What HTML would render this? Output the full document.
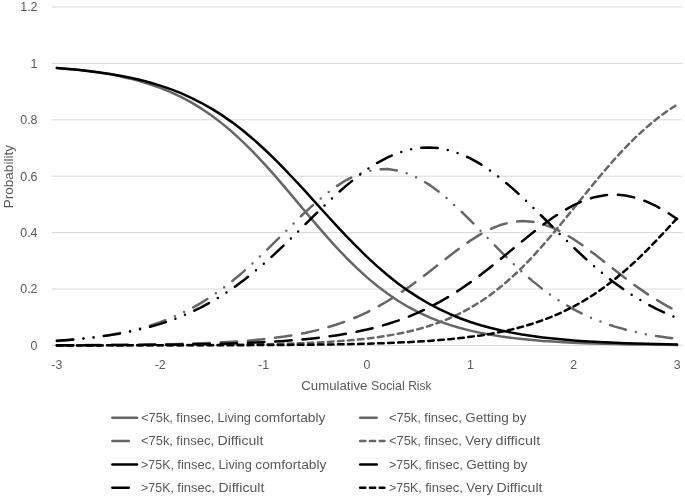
<!DOCTYPE html><html><head><meta charset="utf-8"><title>Chart</title><style>html,body{margin:0;padding:0;background:#fff}svg{display:block;will-change:transform}text{font-family:"Liberation Sans",sans-serif;fill:#595959}</style></head><body>
<svg width="685" height="497" viewBox="0 0 685 497">
<rect width="685" height="497" fill="#fff"/>
<line x1="51.7" x2="682.3" y1="345.40" y2="345.40" stroke="#d9d9d9" stroke-width="1"/>
<line x1="51.7" x2="682.3" y1="289.00" y2="289.00" stroke="#d9d9d9" stroke-width="1"/>
<line x1="51.7" x2="682.3" y1="232.60" y2="232.60" stroke="#d9d9d9" stroke-width="1"/>
<line x1="51.7" x2="682.3" y1="176.20" y2="176.20" stroke="#d9d9d9" stroke-width="1"/>
<line x1="51.7" x2="682.3" y1="119.80" y2="119.80" stroke="#d9d9d9" stroke-width="1"/>
<line x1="51.7" x2="682.3" y1="63.40" y2="63.40" stroke="#d9d9d9" stroke-width="1"/>
<line x1="51.7" x2="682.3" y1="7.00" y2="7.00" stroke="#d9d9d9" stroke-width="1"/>
<text x="37.5" y="349.80" font-size="12.4" text-anchor="end">0</text>
<text x="37.5" y="293.40" font-size="12.4" text-anchor="end">0.2</text>
<text x="37.5" y="237.00" font-size="12.4" text-anchor="end">0.4</text>
<text x="37.5" y="180.60" font-size="12.4" text-anchor="end">0.6</text>
<text x="37.5" y="124.20" font-size="12.4" text-anchor="end">0.8</text>
<text x="37.5" y="67.80" font-size="12.4" text-anchor="end">1</text>
<text x="37.5" y="11.40" font-size="12.4" text-anchor="end">1.2</text>
<text x="56.87" y="369.20" font-size="12.4" text-anchor="middle">-3</text>
<text x="160.24" y="369.20" font-size="12.4" text-anchor="middle">-2</text>
<text x="263.61" y="369.20" font-size="12.4" text-anchor="middle">-1</text>
<text x="366.98" y="369.20" font-size="12.4" text-anchor="middle">0</text>
<text x="470.35" y="369.20" font-size="12.4" text-anchor="middle">1</text>
<text x="573.72" y="369.20" font-size="12.4" text-anchor="middle">2</text>
<text x="677.09" y="369.20" font-size="12.4" text-anchor="middle">3</text>
<text y="389.60" font-size="12.4"><tspan x="301.28" textLength="66.15" lengthAdjust="spacingAndGlyphs">Cumulative</tspan> <tspan x="371.02" textLength="33.71" lengthAdjust="spacingAndGlyphs">Social</tspan> <tspan x="408.16" textLength="23.25" lengthAdjust="spacingAndGlyphs">Risk</tspan></text>
<text y="0.00" font-size="12.4" transform="translate(13.20 176.50) rotate(-90)"><tspan x="-31.75" textLength="63.18" lengthAdjust="spacingAndGlyphs">Probability</tspan></text>
<path d="M56.87 67.98 L67.21 68.84 L77.54 69.86 L87.88 71.06 L98.22 72.47 L108.56 74.14 L118.89 76.11 L129.23 78.41 L139.57 81.10 L149.90 84.23 L160.24 87.87 L170.58 92.07 L180.91 96.90 L191.25 102.43 L201.59 108.69 L211.93 115.74 L222.26 123.62 L232.60 132.32 L242.94 141.83 L253.27 152.11 L263.61 163.08 L273.95 174.63 L284.28 186.61 L294.62 198.85 L304.96 211.18 L315.30 223.41 L325.63 235.35 L335.97 246.84 L346.31 257.75 L356.64 267.95 L366.98 277.39 L377.32 286.01 L387.65 293.80 L397.99 300.77 L408.33 306.96 L418.67 312.41 L429.00 317.18 L439.34 321.32 L449.68 324.90 L460.01 327.99 L470.35 330.64 L480.69 332.90 L491.02 334.84 L501.36 336.48 L511.70 337.87 L522.03 339.05 L532.37 340.05 L542.71 340.90 L553.05 341.61 L563.38 342.21 L573.72 342.72 L584.06 343.15 L594.39 343.51 L604.73 343.81 L615.07 344.06 L625.41 344.28 L635.74 344.46 L646.08 344.61 L656.42 344.73 L666.75 344.84 L677.09 344.93" fill="none" stroke="#666666" stroke-width="2.5" stroke-linecap="round" stroke-linejoin="round"/>
<path d="M56.87 341.02 L67.21 340.20 L77.54 339.23 L87.88 338.08 L98.22 336.73 L108.56 335.15 L118.89 333.28 L129.23 331.10 L139.57 328.55 L149.90 325.58 L160.24 322.15 L170.58 318.19 L180.91 313.64 L191.25 308.47 L201.59 302.62 L211.93 296.06 L222.26 288.78 L232.60 280.78 L242.94 272.11 L253.27 262.83 L263.61 253.06 L273.95 242.94 L284.28 232.64 L294.62 222.39 L304.96 212.41 L315.30 202.96 L325.63 194.26 L335.97 186.56 L346.31 180.06 L356.64 174.94 L366.98 171.35 L377.32 169.39 L387.65 169.11 L397.99 170.55 L408.33 173.66 L418.67 178.38 L429.00 184.58 L439.34 192.11 L449.68 200.76 L460.01 210.29 L470.35 220.44 L480.69 230.96 L491.02 241.59 L501.36 252.08 L511.70 262.22 L522.03 271.86 L532.37 280.86 L542.71 289.14 L553.05 296.65 L563.38 303.39 L573.72 309.37 L584.06 314.63 L594.39 319.22 L604.73 323.20 L615.07 326.62 L625.41 329.55 L635.74 332.05 L646.08 334.18 L656.42 335.98 L666.75 337.50 L677.09 338.78" fill="none" stroke="#666666" stroke-width="2.5" stroke-linecap="round" stroke-linejoin="round" stroke-dasharray="16.40 10.25 0 10.25 0 10.30"/>
<path d="M56.87 345.23 L67.21 345.20 L77.54 345.16 L87.88 345.11 L98.22 345.05 L108.56 344.98 L118.89 344.90 L129.23 344.80 L139.57 344.68 L149.90 344.54 L160.24 344.37 L170.58 344.16 L180.91 343.92 L191.25 343.62 L201.59 343.27 L211.93 342.85 L222.26 342.35 L232.60 341.76 L242.94 341.04 L253.27 340.20 L263.61 339.19 L273.95 337.99 L284.28 336.58 L294.62 334.91 L304.96 332.94 L315.30 330.63 L325.63 327.93 L335.97 324.80 L346.31 321.18 L356.64 317.03 L366.98 312.30 L377.32 306.97 L387.65 301.03 L397.99 294.48 L408.33 287.39 L418.67 279.81 L429.00 271.89 L439.34 263.79 L449.68 255.71 L460.01 247.90 L470.35 240.63 L480.69 234.17 L491.02 228.78 L501.36 224.69 L511.70 222.10 L522.03 221.11 L532.37 221.77 L542.71 224.05 L553.05 227.85 L563.38 232.99 L573.72 239.26 L584.06 246.39 L594.39 254.11 L604.73 262.16 L615.07 270.28 L625.41 278.25 L635.74 285.91 L646.08 293.11 L656.42 299.77 L666.75 305.83 L677.09 311.28" fill="none" stroke="#666666" stroke-width="2.5" stroke-linecap="round" stroke-linejoin="round" stroke-dasharray="16.50 10.80"/>
<path d="M56.87 345.37 L67.21 345.36 L77.54 345.36 L87.88 345.35 L98.22 345.34 L108.56 345.33 L118.89 345.31 L129.23 345.29 L139.57 345.27 L149.90 345.25 L160.24 345.22 L170.58 345.18 L180.91 345.14 L191.25 345.08 L201.59 345.02 L211.93 344.94 L222.26 344.85 L232.60 344.74 L242.94 344.61 L253.27 344.46 L263.61 344.27 L273.95 344.04 L284.28 343.77 L294.62 343.45 L304.96 343.07 L315.30 342.61 L325.63 342.06 L335.97 341.40 L346.31 340.61 L356.64 339.68 L366.98 338.56 L377.32 337.23 L387.65 335.66 L397.99 333.80 L408.33 331.59 L418.67 329.00 L429.00 325.95 L439.34 322.38 L449.68 318.23 L460.01 313.42 L470.35 307.89 L480.69 301.57 L491.02 294.40 L501.36 286.35 L511.70 277.41 L522.03 267.58 L532.37 256.92 L542.71 245.51 L553.05 233.49 L563.38 221.00 L573.72 208.25 L584.06 195.43 L594.39 182.76 L604.73 170.44 L615.07 158.64 L625.41 147.52 L635.74 137.19 L646.08 127.71 L656.42 119.12 L666.75 111.43 L677.09 104.60" fill="none" stroke="#666666" stroke-width="2.5" stroke-linecap="round" stroke-linejoin="round" stroke-dasharray="5.62 4.42"/>
<path d="M56.87 68.09 L67.21 68.90 L77.54 69.85 L87.88 70.95 L98.22 72.24 L108.56 73.73 L118.89 75.47 L129.23 77.49 L139.57 79.82 L149.90 82.52 L160.24 85.61 L170.58 89.16 L180.91 93.21 L191.25 97.82 L201.59 103.02 L211.93 108.86 L222.26 115.39 L232.60 122.61 L242.94 130.54 L253.27 139.18 L263.61 148.48 L273.95 158.40 L284.28 168.86 L294.62 179.76 L304.96 190.96 L315.30 202.34 L325.63 213.75 L335.97 225.04 L346.31 236.06 L356.64 246.69 L366.98 256.81 L377.32 266.35 L387.65 275.23 L397.99 283.42 L408.33 290.90 L418.67 297.67 L429.00 303.75 L439.34 309.18 L449.68 313.99 L460.01 318.24 L470.35 321.96 L480.69 325.22 L491.02 328.05 L501.36 330.51 L511.70 332.63 L522.03 334.47 L532.37 336.05 L542.71 337.41 L553.05 338.58 L563.38 339.57 L573.72 340.43 L584.06 341.16 L594.39 341.79 L604.73 342.32 L615.07 342.78 L625.41 343.17 L635.74 343.50 L646.08 343.78 L656.42 344.02 L666.75 344.23 L677.09 344.40" fill="none" stroke="#000000" stroke-width="2.5" stroke-linecap="round" stroke-linejoin="round"/>
<path d="M56.87 340.85 L67.21 340.06 L77.54 339.14 L87.88 338.08 L98.22 336.83 L108.56 335.38 L118.89 333.70 L129.23 331.74 L139.57 329.49 L149.90 326.89 L160.24 323.89 L170.58 320.47 L180.91 316.57 L191.25 312.14 L201.59 307.14 L211.93 301.53 L222.26 295.30 L232.60 288.40 L242.94 280.86 L253.27 272.68 L263.61 263.91 L273.95 254.62 L284.28 244.90 L294.62 234.87 L304.96 224.67 L315.30 214.47 L325.63 204.44 L335.97 194.76 L346.31 185.60 L356.64 177.14 L366.98 169.51 L377.32 162.87 L387.65 157.30 L397.99 152.92 L408.33 149.78 L418.67 147.93 L429.00 147.40 L439.34 148.20 L449.68 150.32 L460.01 153.72 L470.35 158.37 L480.69 164.19 L491.02 171.09 L501.36 178.95 L511.70 187.64 L522.03 196.99 L532.37 206.84 L542.71 217.00 L553.05 227.29 L563.38 237.54 L573.72 247.58 L584.06 257.28 L594.39 266.50 L604.73 275.18 L615.07 283.24 L625.41 290.65 L635.74 297.39 L646.08 303.47 L656.42 308.92 L666.75 313.76 L677.09 318.04" fill="none" stroke="#000000" stroke-width="2.5" stroke-linecap="round" stroke-linejoin="round" stroke-dasharray="16.40 10.25 0 10.25 0 10.30"/>
<path d="M56.87 345.27 L67.21 345.25 L77.54 345.23 L87.88 345.19 L98.22 345.16 L108.56 345.12 L118.89 345.07 L129.23 345.01 L139.57 344.94 L149.90 344.85 L160.24 344.76 L170.58 344.64 L180.91 344.51 L191.25 344.35 L201.59 344.17 L211.93 343.95 L222.26 343.69 L232.60 343.39 L242.94 343.04 L253.27 342.62 L263.61 342.14 L273.95 341.57 L284.28 340.90 L294.62 340.12 L304.96 339.21 L315.30 338.14 L325.63 336.90 L335.97 335.45 L346.31 333.77 L356.64 331.83 L366.98 329.58 L377.32 326.99 L387.65 324.03 L397.99 320.64 L408.33 316.79 L418.67 312.44 L429.00 307.55 L439.34 302.11 L449.68 296.10 L460.01 289.52 L470.35 282.40 L480.69 274.79 L491.02 266.77 L501.36 258.43 L511.70 249.91 L522.03 241.37 L532.37 233.00 L542.71 224.99 L553.05 217.54 L563.38 210.86 L573.72 205.13 L584.06 200.52 L594.39 197.17 L604.73 195.18 L615.07 194.61 L625.41 195.47 L635.74 197.74 L646.08 201.35 L656.42 206.19 L666.75 212.12 L677.09 218.97" fill="none" stroke="#000000" stroke-width="2.5" stroke-linecap="round" stroke-linejoin="round" stroke-dasharray="16.50 10.80"/>
<path d="M56.87 345.39 L67.21 345.39 L77.54 345.38 L87.88 345.38 L98.22 345.38 L108.56 345.37 L118.89 345.37 L129.23 345.36 L139.57 345.35 L149.90 345.34 L160.24 345.33 L170.58 345.32 L180.91 345.31 L191.25 345.29 L201.59 345.27 L211.93 345.25 L222.26 345.23 L232.60 345.20 L242.94 345.16 L253.27 345.12 L263.61 345.07 L273.95 345.01 L284.28 344.94 L294.62 344.85 L304.96 344.76 L315.30 344.64 L325.63 344.51 L335.97 344.35 L346.31 344.17 L356.64 343.95 L366.98 343.69 L377.32 343.39 L387.65 343.04 L397.99 342.62 L408.33 342.14 L418.67 341.56 L429.00 340.89 L439.34 340.11 L449.68 339.19 L460.01 338.11 L470.35 336.86 L480.69 335.40 L491.02 333.69 L501.36 331.71 L511.70 329.42 L522.03 326.77 L532.37 323.71 L542.71 320.21 L553.05 316.19 L563.38 311.63 L573.72 306.46 L584.06 300.64 L594.39 294.13 L604.73 286.91 L615.07 278.97 L625.41 270.32 L635.74 260.97 L646.08 251.00 L656.42 240.47 L666.75 229.49 L677.09 218.19" fill="none" stroke="#000000" stroke-width="2.5" stroke-linecap="round" stroke-linejoin="round" stroke-dasharray="5.62 4.42"/>
<line x1="112.35" x2="137.05" y1="417.75" y2="417.75" stroke="#666666" stroke-width="2.5" stroke-linecap="round"/>
<line x1="112.35" x2="128.75" y1="441.05" y2="441.05" stroke="#666666" stroke-width="2.5" stroke-linecap="round"/>
<line x1="112.35" x2="137.05" y1="464.40" y2="464.40" stroke="#000000" stroke-width="2.5" stroke-linecap="round"/>
<line x1="112.35" x2="128.75" y1="487.70" y2="487.70" stroke="#000000" stroke-width="2.5" stroke-linecap="round"/>
<line x1="360.15" x2="376.75" y1="417.75" y2="417.75" stroke="#666666" stroke-width="2.5" stroke-linecap="round"/>
<line x1="360.15" x2="384.45" y1="441.05" y2="441.05" stroke="#666666" stroke-width="2.5" stroke-linecap="round" stroke-dasharray="5.2 4.6"/>
<line x1="360.15" x2="376.75" y1="464.40" y2="464.40" stroke="#000000" stroke-width="2.5" stroke-linecap="round"/>
<line x1="360.15" x2="384.45" y1="487.70" y2="487.70" stroke="#000000" stroke-width="2.5" stroke-linecap="round" stroke-dasharray="5.2 4.6"/>
<text y="421.85" font-size="12.4"><tspan x="141.10" textLength="31.85" lengthAdjust="spacingAndGlyphs">&lt;75k,</tspan> <tspan x="176.38" textLength="37.66" lengthAdjust="spacingAndGlyphs">finsec,</tspan> <tspan x="217.49" textLength="33.42" lengthAdjust="spacingAndGlyphs">Living</tspan> <tspan x="254.34" textLength="71.13" lengthAdjust="spacingAndGlyphs">comfortably</tspan></text>
<text y="445.15" font-size="12.4"><tspan x="141.10" textLength="31.85" lengthAdjust="spacingAndGlyphs">&lt;75k,</tspan> <tspan x="176.38" textLength="37.66" lengthAdjust="spacingAndGlyphs">finsec,</tspan> <tspan x="217.49" textLength="45.91" lengthAdjust="spacingAndGlyphs">Difficult</tspan></text>
<text y="468.50" font-size="12.4"><tspan x="141.10" textLength="32.79" lengthAdjust="spacingAndGlyphs">&gt;75K,</tspan> <tspan x="177.32" textLength="37.66" lengthAdjust="spacingAndGlyphs">finsec,</tspan> <tspan x="218.43" textLength="33.42" lengthAdjust="spacingAndGlyphs">Living</tspan> <tspan x="255.28" textLength="71.13" lengthAdjust="spacingAndGlyphs">comfortably</tspan></text>
<text y="491.80" font-size="12.4"><tspan x="141.10" textLength="32.79" lengthAdjust="spacingAndGlyphs">&gt;75K,</tspan> <tspan x="177.32" textLength="37.66" lengthAdjust="spacingAndGlyphs">finsec,</tspan> <tspan x="218.43" textLength="45.91" lengthAdjust="spacingAndGlyphs">Difficult</tspan></text>
<text y="421.85" font-size="12.4"><tspan x="389.00" textLength="31.85" lengthAdjust="spacingAndGlyphs">&lt;75k,</tspan> <tspan x="424.28" textLength="37.66" lengthAdjust="spacingAndGlyphs">finsec,</tspan> <tspan x="465.39" textLength="43.45" lengthAdjust="spacingAndGlyphs">Getting</tspan> <tspan x="512.32" textLength="14.05" lengthAdjust="spacingAndGlyphs">by</tspan></text>
<text y="445.15" font-size="12.4"><tspan x="389.00" textLength="31.85" lengthAdjust="spacingAndGlyphs">&lt;75k,</tspan> <tspan x="424.28" textLength="37.66" lengthAdjust="spacingAndGlyphs">finsec,</tspan> <tspan x="465.39" textLength="26.82" lengthAdjust="spacingAndGlyphs">Very</tspan> <tspan x="495.61" textLength="44.61" lengthAdjust="spacingAndGlyphs">difficult</tspan></text>
<text y="468.50" font-size="12.4"><tspan x="389.00" textLength="32.79" lengthAdjust="spacingAndGlyphs">&gt;75K,</tspan> <tspan x="425.22" textLength="37.66" lengthAdjust="spacingAndGlyphs">finsec,</tspan> <tspan x="466.33" textLength="43.45" lengthAdjust="spacingAndGlyphs">Getting</tspan> <tspan x="513.26" textLength="14.05" lengthAdjust="spacingAndGlyphs">by</tspan></text>
<text y="491.80" font-size="12.4"><tspan x="389.00" textLength="32.79" lengthAdjust="spacingAndGlyphs">&gt;75K,</tspan> <tspan x="425.22" textLength="37.66" lengthAdjust="spacingAndGlyphs">finsec,</tspan> <tspan x="466.33" textLength="26.82" lengthAdjust="spacingAndGlyphs">Very</tspan> <tspan x="496.55" textLength="45.91" lengthAdjust="spacingAndGlyphs">Difficult</tspan></text>
</svg></body></html>
